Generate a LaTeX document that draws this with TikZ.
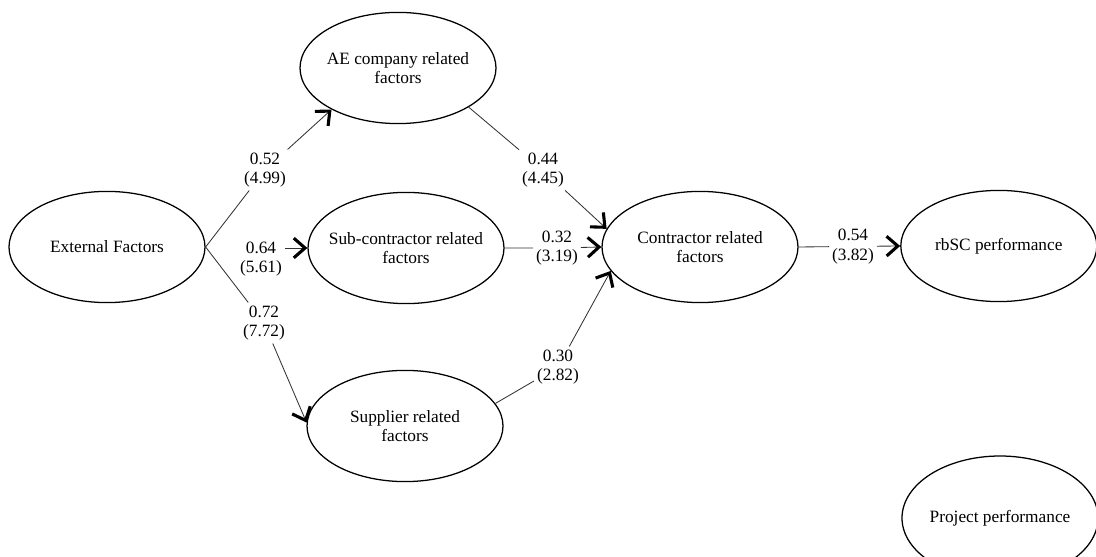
\documentclass[tikz,border=0pt]{standalone}
\usepackage{fontspec}
\setmainfont{Liberation Serif}
\usetikzlibrary{shapes.geometric, arrows.meta, positioning}

\begin{document}
\begin{tikzpicture}[
    every node/.style={font=\fontsize{12.3}{14}\selectfont},
    factor/.style={draw, ellipse, line width=0.9pt, minimum width=4.9cm,
                   minimum height=2.78cm, inner xsep=-6pt, inner ysep=0pt,
                   align=center},
    coef/.style={fill=white, align=center, inner sep=2pt},
    link/.style={line width=0.6pt, draw=black!80},
    arr/.style={link, -{Straight Barb[length=8pt, width=14pt, line width=2.2pt, color=black]}}
]
    \useasboundingbox (0,0) rectangle (27.4,-13.925);

    % Latent factors
    \node[factor] (ext)  at (2.675, -6.175)  {External Factors};
    \node[factor] (ae)   at (9.95, -1.7)     {AE company related\\factors};
    \node[factor] (sub)  at (10.15, -6.2)    {Sub-contractor related\\factors};
    \node[factor] (sup)  at (10.125, -10.65) {Supplier related\\factors};
    \node[factor] (con)  at (17.5, -6.175)   {Contractor related\\factors};
    \node[factor] (rbsc) at (24.97, -6.15)   {rbSC performance};
    \node[factor, minimum height=3.1cm] (proj) at (25.0, -12.95) {Project performance};

    % Path coefficients (t-values)
    \node[coef] (l52) at (6.625, -4.25)  {0.52\\(4.99)};
    \node[coef] (l64) at (6.525, -6.475) {0.64\\(5.61)};
    \node[coef] (l72) at (6.6, -8.075)   {0.72\\(7.72)};
    \node[coef] (l44) at (13.575, -4.25) {0.44\\(4.45)};
    \node[coef] (l32) at (13.925, -6.2)  {0.32\\(3.19)};
    \node[coef] (l30) at (13.95, -9.175) {0.30\\(2.82)};
    \node[coef] (l54) at (21.325, -6.16) {0.54\\(3.82)};

    % Paths
    \draw[arr] (ext.east) -- (l52) -- (ae.212);
    \draw[arr] (l64.east |- sub.west) -- (sub.west);
    \draw[arr] (ext.east) -- (l72) -- (sup.178);
    \draw[arr] (ae.331) -- (l44) -- (con.169);
    \draw[arr] (sub.east) -- (l32) -- (con.west);
    \draw[arr] (sup.14) -- (l30) -- (con.195);
    \draw[arr] (con.east) -- (l54) -- (rbsc.west);
\end{tikzpicture}
\end{document}
